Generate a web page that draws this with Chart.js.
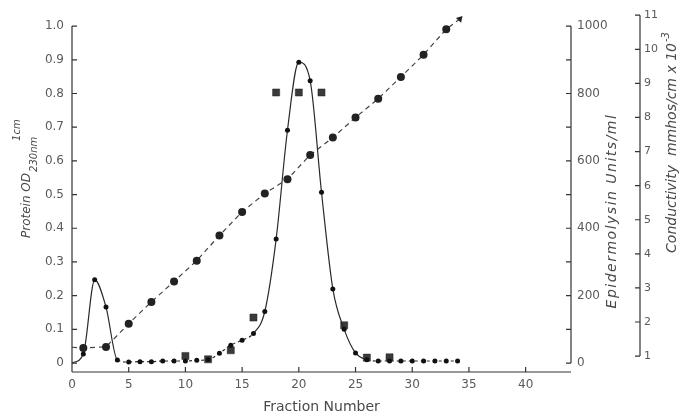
<!DOCTYPE html>
<html>
<head>
<meta charset="utf-8">
<script src="https://cdn.jsdelivr.net/npm/chart.js@4.4.1/dist/chart.umd.min.js"></script>
<style>
  html, body { margin: 0; padding: 0; background: #ffffff; }
  #wrap { width: 684px; height: 418px; position: relative; }
</style>
</head>
<body>
<div id="wrap"><canvas id="fig"></canvas></div>
<script>
// valores (fração vs. proteína, epidermolisina, condutividade)
const fractions = [0, 1, 2, 3, 4, 5, 6, 7, 8, 9, 10, 11, 12, 13, 14, 15, 16, 17, 18, 19, 20,
                   21, 22, 23, 24, 25, 26, 27, 28, 29, 30, 31, 32, 33, 34];
const protein = [0, 0.027, 0.247, 0.166, 0.009, 0.003, 0.004, 0.004, 0.006, 0.006, 0.006,
                 0.008, 0.010, 0.029, 0.053, 0.068, 0.088, 0.153, 0.368, 0.691, 0.893,
                 0.838, 0.507, 0.220, 0.100, 0.030, 0.010, 0.006, 0.006, 0.006, 0.006,
                 0.006, 0.006, 0.006, 0.006];

const epiFractions = [10, 12, 14, 16, 18, 20, 22, 24, 26, 28];
const epiUnits = [21, 11, 38, 135, 803, 803, 803, 112, 16, 17];

const condFractions = [0, 1, 3, 5, 7, 9, 11, 13, 15, 17, 19, 21, 23, 25, 27, 29, 31, 33, 34.2];
const conductivity = [1.26, 1.24, 1.27, 1.95, 2.59, 3.19, 3.80, 4.54, 5.23, 5.77, 6.19,
                      6.90, 7.41, 8.00, 8.55, 9.19, 9.84, 10.59, 10.89];

// marcas dos eixos
const xTicks = [0, 5, 10, 15, 20, 25, 30, 35, 40];
const proteinTicks = [0, 0.1, 0.2, 0.3, 0.4, 0.5, 0.6, 0.7, 0.8, 0.9, 1.0];
const epiTicks = [0, 200, 400, 600, 800, 1000];
const epiMinorTicks = [0, 100, 200, 300, 400, 500, 600, 700, 800, 900, 1000];
const condTicks = [1, 2, 3, 4, 5, 6, 7, 8, 9, 10, 11];

const ink = '#2a2a2a';
const textGray = '#5a5a5a';
const font = '"DejaVu Sans", sans-serif';

Chart.defaults.font.family = font;
Chart.defaults.color = textGray;

function pts(xs, ys) {
    return xs.map((x, i) => ({ x: x, y: ys[i] }));
}

function fixTicks(list) {
    return function (scale) {
        scale.ticks = list.map(v => ({ value: v }));
    };
}

// desenha linhas dos eixos, marcas para dentro e títulos verticais
const axisPlugin = {
    id: 'axisPlugin',
    afterDraw(chart) {
        const { ctx, chartArea: a, scales } = chart;
        const sx = scales.x, sy = scales.y, se = scales.epi, sc = scales.cond;
        ctx.save();
        ctx.strokeStyle = '#333';
        ctx.lineWidth = 1.2;
        ctx.beginPath();
        // eixo x
        ctx.moveTo(a.left, a.bottom);
        ctx.lineTo(a.right, a.bottom);
        xTicks.forEach(v => {
            const px = sx.getPixelForValue(v);
            ctx.moveTo(px, a.bottom);
            ctx.lineTo(px, a.bottom - 5);
        });
        // eixo proteína
        ctx.moveTo(a.left, a.bottom);
        ctx.lineTo(a.left, sy.getPixelForValue(1.0));
        proteinTicks.forEach(v => {
            const py = sy.getPixelForValue(v);
            ctx.moveTo(a.left, py);
            ctx.lineTo(a.left + 5, py);
        });
        // eixo epidermolisina
        ctx.moveTo(se.left, se.getPixelForValue(0));
        ctx.lineTo(se.left, se.getPixelForValue(1000));
        epiMinorTicks.forEach(v => {
            const py = se.getPixelForValue(v);
            ctx.moveTo(se.left, py);
            ctx.lineTo(se.left - 5, py);
        });
        // eixo condutividade
        ctx.moveTo(sc.left, sc.getPixelForValue(1));
        ctx.lineTo(sc.left, sc.getPixelForValue(11));
        condTicks.forEach(v => {
            const py = sc.getPixelForValue(v);
            ctx.moveTo(sc.left, py);
            ctx.lineTo(sc.left - 5, py);
        });
        ctx.stroke();

        ctx.fillStyle = '#4a4a4a';
        ctx.textAlign = 'left';
        ctx.textBaseline = 'alphabetic';

        // título esquerdo: Protein OD (1cm / 230nm)
        ctx.save();
        ctx.translate(30, 238);
        ctx.rotate(-Math.PI / 2);
        ctx.font = 'italic 12px ' + font;
        ctx.fillText('Protein OD', 0, 0);
        const w = ctx.measureText('Protein OD').width;
        ctx.font = 'italic 10px ' + font;
        ctx.fillText('230nm', w + 1, 7);
        ctx.fillText('1cm', w + 32, -10);
        ctx.restore();

        // título epidermolisina
        ctx.save();
        ctx.font = 'italic 14px ' + font;
        if ('letterSpacing' in ctx) ctx.letterSpacing = '1.5px';
        const t1 = 'Epidermolysin Units/ml';
        const w1 = ctx.measureText(t1).width;
        ctx.translate(616, 211 + w1 / 2);
        ctx.rotate(-Math.PI / 2);
        ctx.fillText(t1, 0, 0);
        ctx.restore();

        // título condutividade
        ctx.save();
        ctx.font = 'italic 14px ' + font;
        const t2 = 'Conductivity  mmhos/cm x 10';
        const w2 = ctx.measureText(t2).width;
        ctx.font = 'italic 10px ' + font;
        const w3 = ctx.measureText('-3').width;
        ctx.translate(676, 143 + (w2 + w3) / 2);
        ctx.rotate(-Math.PI / 2);
        ctx.font = 'italic 14px ' + font;
        ctx.fillText(t2, 0, 0);
        ctx.font = 'italic 10px ' + font;
        ctx.fillText('-3', w2 + 1, -7);
        ctx.restore();

        ctx.restore();
    }
};

const lastCond = condFractions.length - 1;

new Chart(document.getElementById('fig'), {
    type: 'line',
    data: {
        datasets: [
            {
                label: 'Protein',
                data: pts(fractions, protein),
                yAxisID: 'y',
                borderColor: ink,
                borderWidth: 1.2,
                backgroundColor: '#111',
                pointBackgroundColor: '#111',
                pointBorderWidth: 0,
                pointRadius: ctx => ctx.dataIndex === 0 ? 0 : 2.5,
                cubicInterpolationMode: 'monotone',
                segment: {
                    borderDash: ctx => ((ctx.p0.parsed.x >= 4 && ctx.p1.parsed.x <= 16) || ctx.p0.parsed.x >= 26) ? [3, 3] : undefined
                }
            },
            {
                label: 'Epidermolysin',
                data: pts(epiFractions, epiUnits),
                yAxisID: 'epi',
                showLine: false,
                pointStyle: 'rect',
                pointRadius: 5,
                pointBackgroundColor: '#3a3a3a',
                pointBorderColor: '#222',
                pointBorderWidth: 0.5
            },
            {
                label: 'Conductivity',
                data: pts(condFractions, conductivity),
                yAxisID: 'cond',
                borderColor: '#444',
                borderWidth: 1.2,
                borderDash: [5, 4],
                tension: 0,
                pointStyle: ctx => ctx.dataIndex === lastCond ? 'triangle' : 'circle',
                pointRadius: ctx => ctx.dataIndex === 0 ? 0 : 4,
                pointRotation: ctx => ctx.dataIndex === lastCond ? 42 : 0,
                pointBackgroundColor: '#222',
                pointBorderWidth: 0
            }
        ]
    },
    options: {
        responsive: true,
        maintainAspectRatio: false,
        devicePixelRatio: 1,
        animation: false,
        layout: { padding: { top: 13, left: 0, right: 0, bottom: 0 } },
        plugins: {
            legend: { display: false },
            tooltip: { enabled: false }
        },
        scales: {
            x: {
                type: 'linear',
                min: 0,
                max: 44,
                grid: { display: false, drawTicks: false },
                border: { display: false },
                afterBuildTicks: fixTicks(xTicks),
                afterFit: s => { s.height = 46; },
                ticks: { padding: 6, autoSkip: false, maxRotation: 0, font: { size: 12 }, color: textGray },
                title: {
                    display: true,
                    text: 'Fraction Number',
                    font: { size: 14 },
                    color: '#4a4a4a',
                    padding: { top: 0, bottom: 2 }
                }
            },
            y: {
                type: 'linear',
                position: 'left',
                min: -0.0266,
                max: 1.0324,
                grid: { display: false, drawTicks: false },
                border: { display: false },
                afterBuildTicks: fixTicks(proteinTicks),
                afterFit: s => { s.width = 72; },
                ticks: {
                    padding: 8,
                    font: { size: 12 },
                    color: textGray,
                    callback: v => v === 0 ? '0' : v.toFixed(1)
                }
            },
            epi: {
                type: 'linear',
                position: 'right',
                min: -26.6,
                max: 1032.4,
                grid: { display: false, drawTicks: false },
                border: { display: false },
                afterBuildTicks: fixTicks(epiTicks),
                afterFit: s => { s.width = 69; },
                ticks: { padding: 6, font: { size: 12 }, color: textGray, callback: v => String(v) }
            },
            cond: {
                type: 'linear',
                position: 'right',
                min: 0.5335,
                max: 11.0,
                grid: { display: false, drawTicks: false },
                border: { display: false },
                afterBuildTicks: fixTicks(condTicks),
                afterFit: s => { s.width = 44; },
                ticks: { padding: 4, font: { size: 11 }, color: textGray, callback: v => String(v) }
            }
        }
    },
    plugins: [axisPlugin]
});
</script>
</body>
</html>
